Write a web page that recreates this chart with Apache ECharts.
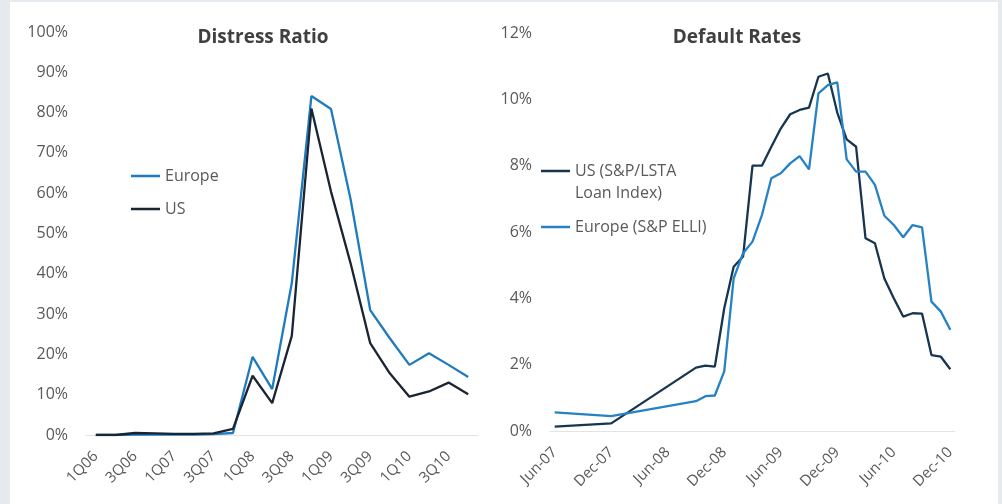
<!DOCTYPE html>
<html>
<head>
<meta charset="utf-8">
<script src="https://cdn.jsdelivr.net/npm/echarts@6/dist/echarts.min.js"></script>
<style>
  html, body { margin: 0; padding: 0; background: #e4eaee; }
  #panel { position: absolute; left: 10px; top: 2px; width: 988px; height: 502px; background: #ffffff; }
  #chart { position: absolute; left: 0; top: 0; width: 1002px; height: 504px; }
</style>
</head>
<body>
<div id="panel"></div>
<div id="chart"></div>
<script>
// left panel: distress ratio by quarter (%)
const quarters = ['1Q06', '2Q06', '3Q06', '4Q06', '1Q07', '2Q07', '3Q07', '4Q07', '1Q08', '2Q08',
  '3Q08', '4Q08', '1Q09', '2Q09', '3Q09', '4Q09', '1Q10', '2Q10', '3Q10', '4Q10']
const distressEurope = [0, 0, 0.1, 0.1, 0.1, 0.1, 0.2, 0.5, 19.4, 11.4, 37.7, 84.1, 80.9, 58.5, 31, 24, 17.4, 20.3, 17.4, 14.4]
const distressUS = [0, 0, 0.5, 0.4, 0.3, 0.3, 0.4, 1.5, 14.7, 7.9, 24.6, 81, 60.4, 42.6, 22.8, 15.3, 9.5, 10.8, 13, 10.1]
const distressTicks = [0, 10, 20, 30, 40, 50, 60, 70, 80, 90, 100]

// right panel: default rates by month (%), null where no reading
const months = ['Jun-07', 'Jul-07', 'Aug-07', 'Sep-07', 'Oct-07', 'Nov-07', 'Dec-07',
  'Jan-08', 'Feb-08', 'Mar-08', 'Apr-08', 'May-08', 'Jun-08', 'Jul-08', 'Aug-08', 'Sep-08', 'Oct-08', 'Nov-08', 'Dec-08',
  'Jan-09', 'Feb-09', 'Mar-09', 'Apr-09', 'May-09', 'Jun-09', 'Jul-09', 'Aug-09', 'Sep-09', 'Oct-09', 'Nov-09', 'Dec-09',
  'Jan-10', 'Feb-10', 'Mar-10', 'Apr-10', 'May-10', 'Jun-10', 'Jul-10', 'Aug-10', 'Sep-10', 'Oct-10', 'Nov-10', 'Dec-10']
const defaultUS = [0.13, null, null, null, null, null, 0.23,
  null, null, null, null, null, null, null, null, 1.91, 1.97, 1.94, 3.7,
  4.95, 5.26, 8.0, 8.0, 8.57, 9.12, 9.55, 9.68, 9.75, 10.68, 10.78, 9.6,
  8.79, 8.57, 5.81, 5.66, 4.6, 4.0, 3.45, 3.55, 3.54, 2.29, 2.24, 1.86]
const defaultEurope = [0.56, null, null, null, null, null, 0.45,
  null, null, null, null, null, null, null, null, 0.9, 1.05, 1.07, 1.8,
  4.6, 5.36, 5.71, 6.51, 7.62, 7.77, 8.07, 8.29, 7.89, 10.18, 10.43, 10.51,
  8.19, 7.82, 7.82, 7.42, 6.49, 6.21, 5.84, 6.21, 6.14, 3.9, 3.6, 3.05]
const defaultTicks = [0, 2, 4, 6, 8, 10, 12]

const FONT = '"Open Sans", "Segoe UI", sans-serif'
const labelGrey = '#595959'
const axisGrey = '#e3e3e3'

const chart = echarts.init(document.getElementById('chart'))

const xAxisBase = {
  type: 'category',
  boundaryGap: true,
  axisLine: { lineStyle: { color: axisGrey, width: 1 } },
  axisTick: { show: false },
  axisLabel: { rotate: 45, color: labelGrey, fontFamily: FONT, fontSize: 15, margin: 19 }
}
const yAxisBase = {
  type: 'value',
  min: 0,
  axisLine: { show: false },
  axisTick: { show: false },
  splitLine: { show: false },
  axisLabel: { color: labelGrey, fontFamily: FONT, fontSize: 16, margin: 18, formatter: '{value}%' }
}
const legendText = { fontFamily: FONT, fontSize: 16, color: labelGrey }

const option = {
  animation: false,
  backgroundColor: 'transparent',
  title: [
    { text: 'Distress Ratio', left: 258, top: 23, textAlign: 'center',
      textStyle: { fontFamily: FONT, fontSize: 19, fontWeight: 'bold', color: '#404040' } },
    { text: 'Default Rates', left: 732, top: 23, textAlign: 'center',
      textStyle: { fontFamily: FONT, fontSize: 19, fontWeight: 'bold', color: '#404040' } }
  ],
  legend: [
    {
      data: ['Europe', 'US'],
      orient: 'vertical', left: 131, top: 167, itemGap: 15, padding: 0,
      icon: 'rect', itemWidth: 29, itemHeight: 2.5,
      textStyle: Object.assign({ lineHeight: 18 }, legendText)
    },
    {
      data: ['US (S&P/LSTA Loan Index)'],
      // blank first line keeps the icon level with the first text line
      formatter: () => ' \nUS (S&P/LSTA\nLoan Index)',
      orient: 'vertical', left: 541, top: 138, padding: 0,
      icon: 'rect', itemWidth: 29, itemHeight: 2.5,
      textStyle: Object.assign({ lineHeight: 22 }, legendText)
    },
    {
      data: ['Europe (S&P ELLI)'],
      orient: 'vertical', left: 541, top: 216, padding: 0,
      icon: 'rect', itemWidth: 29, itemHeight: 2.5,
      textStyle: Object.assign({ lineHeight: 22 }, legendText)
    }
  ],
  grid: [
    { left: 86, top: 32, width: 392, height: 403 },
    { left: 550, top: 33, width: 405, height: 398 }
  ],
  xAxis: [
    Object.assign({}, xAxisBase, { gridIndex: 0, data: quarters,
      axisLabel: Object.assign({}, xAxisBase.axisLabel, { interval: 1 }) }),
    Object.assign({}, xAxisBase, { gridIndex: 1, data: months,
      axisLabel: Object.assign({}, xAxisBase.axisLabel, { interval: 5 }) })
  ],
  yAxis: [
    Object.assign({}, yAxisBase, { gridIndex: 0, max: distressTicks[distressTicks.length - 1], interval: 10 }),
    Object.assign({}, yAxisBase, { gridIndex: 1, max: defaultTicks[defaultTicks.length - 1], interval: 2 })
  ],
  series: [
    { name: 'Europe', type: 'line', xAxisIndex: 0, yAxisIndex: 0, data: distressEurope,
      showSymbol: false, itemStyle: { color: '#1f7bbd' }, lineStyle: { color: '#1f7bbd', width: 2.3 } },
    { name: 'US', type: 'line', xAxisIndex: 0, yAxisIndex: 0, data: distressUS,
      showSymbol: false, itemStyle: { color: '#1b2432' }, lineStyle: { color: '#1b2432', width: 2.3 } },
    { name: 'US (S&P/LSTA Loan Index)', type: 'line', xAxisIndex: 1, yAxisIndex: 1, data: defaultUS,
      connectNulls: true, showSymbol: false, itemStyle: { color: '#163550' }, lineStyle: { color: '#163550', width: 2.3 } },
    { name: 'Europe (S&P ELLI)', type: 'line', xAxisIndex: 1, yAxisIndex: 1, data: defaultEurope,
      connectNulls: true, showSymbol: false, itemStyle: { color: '#2582c4' }, lineStyle: { color: '#2582c4', width: 2.3 } }
  ]
}

chart.setOption(option)
</script>
</body>
</html>
